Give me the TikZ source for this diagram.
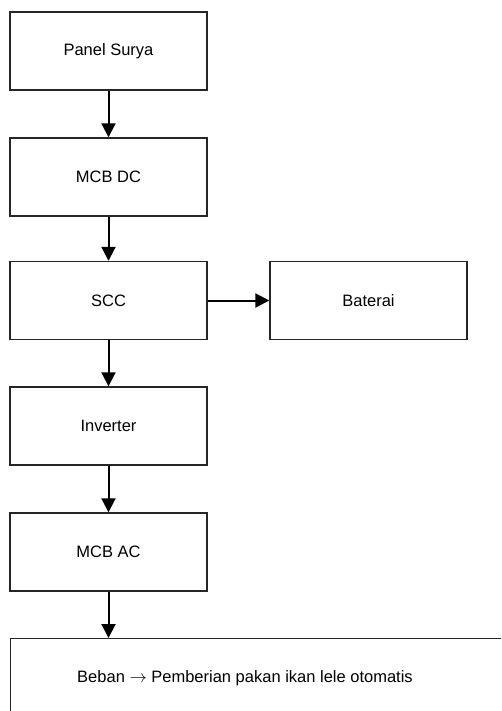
\documentclass[tikz,border=0pt]{standalone}
\usepackage{fontspec}
\setmainfont{Liberation Sans}
\usetikzlibrary{arrows.meta}
\begin{document}
\begin{tikzpicture}[x=1pt,y=-1pt,
  blok/.style={draw=black!85,line width=1.4pt,rectangle,minimum width=197pt,minimum height=78pt,inner sep=0pt,font=\fontsize{16.5}{19}\selectfont},
  panah/.style={line width=2pt,-{Triangle[width=14pt,length=14pt]}}]
\useasboundingbox (0,0) rectangle (501,711);
\clip (0,0) rectangle (501,711);
\node[blok] (ps) at (108.5,51) {Panel Surya};
\node[blok] (mdc) at (108.5,177) {MCB DC};
\node[blok] (scc) at (108.5,300.5) {SCC};
\node[blok] (bat) at (368.5,300.5) {Baterai};
\node[blok] (inv) at (108.5,426) {Inverter};
\node[blok] (mac) at (108.5,552) {MCB AC};
\node[blok,anchor=north west,minimum width=520pt,minimum height=130pt] (beb) at (10,638) {};
\node[font=\fontsize{16.5}{19}\selectfont] (bebt) at (245,678) {Beban $\rightarrow$ Pemberian pakan ikan lele otomatis};
\draw[panah] (ps.south) -- (mdc.north);
\draw[panah] (mdc.south) -- (scc.north);
\draw[panah] (scc.east) -- (bat.west);
\draw[panah] (scc.south) -- (inv.north);
\draw[panah] (inv.south) -- (mac.north);
\draw[panah] (mac.south) -- (mac.south |- beb.north);
\end{tikzpicture}
\end{document}
